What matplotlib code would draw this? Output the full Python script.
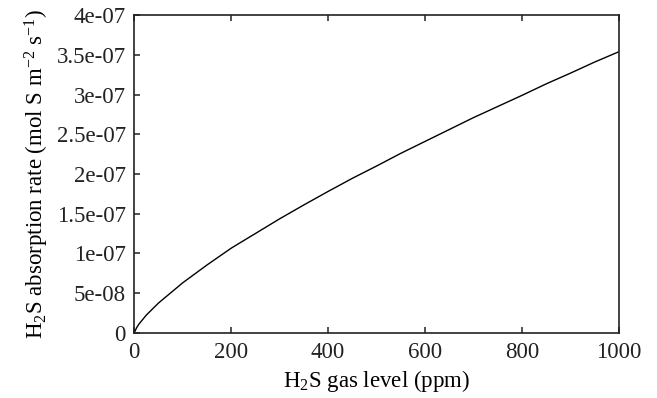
import matplotlib
matplotlib.use("Agg")
import matplotlib.pyplot as plt

# gas level (ppm) and H2S absorption rate (mol S m^-2 s^-1)
gas_ppm = [0, 5, 10, 25, 50, 100, 150, 200, 250, 300, 350, 400, 450, 500,
           550, 600, 650, 700, 750, 800, 850, 900, 950, 1000]
rate = [0.0, 0.065e-7, 0.112e-7, 0.223e-7, 0.374e-7, 0.629e-7, 0.853e-7,
        1.065e-7, 1.25e-7, 1.435e-7, 1.61e-7, 1.78e-7, 1.945e-7, 2.1e-7,
        2.26e-7, 2.41e-7, 2.56e-7, 2.71e-7, 2.85e-7, 2.99e-7, 3.135e-7,
        3.27e-7, 3.41e-7, 3.54e-7]

x_ticks = [0, 200, 400, 600, 800, 1000]
y_ticks = [0, 0.5e-7, 1e-7, 1.5e-7, 2e-7, 2.5e-7, 3e-7, 3.5e-7, 4e-7]
y_ticklabels = ['0', '5e-08', '1e-07', '1.5e-07', '2e-07', '2.5e-07',
                '3e-07', '3.5e-07', '4e-07']

plt.rcParams['font.family'] = ['Liberation Serif', 'DejaVu Serif']
plt.rcParams['mathtext.fontset'] = 'custom'
plt.rcParams['mathtext.rm'] = 'Liberation Serif'
plt.rcParams['mathtext.it'] = 'Liberation Serif:italic'
plt.rcParams['font.size'] = 16.5

fig = plt.figure(figsize=(6.57, 3.98), dpi=100)
ax = fig.add_axes([0.2044, 0.1641, 0.7374, 0.7975])

ax.plot(gas_ppm, rate, color='black', lw=1.0)

ax.set_xlim(0, 1000)
ax.set_ylim(0, 4e-7)
ax.set_xticks(x_ticks)
ax.set_yticks(y_ticks)
ax.set_yticklabels(y_ticklabels)

for s in ax.spines.values():
    s.set_linewidth(1.2)
    s.set_color('#222222')

ax.tick_params(axis='x', direction='in', length=4, width=1.1, top=True,
               pad=7, colors='#222222')
ax.tick_params(axis='y', direction='in', length=4, width=1.1, right=False,
               pad=6, colors='#222222')

ax.set_xlabel(r'H$_2$S gas level (ppm)', labelpad=3)
ax.set_ylabel(r'H$_2$S absorption rate (mol S m$^{\mathrm{-2}}$ s$^{\mathrm{-1}}$)',
              labelpad=4)

fig.savefig('out.png', dpi=100)
